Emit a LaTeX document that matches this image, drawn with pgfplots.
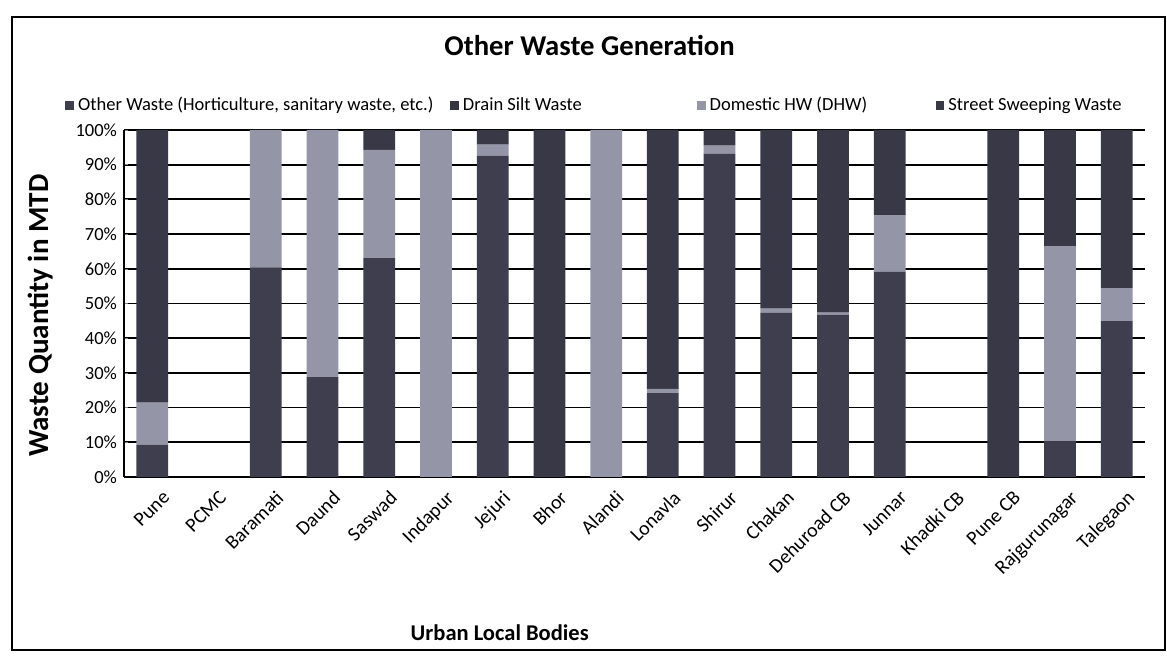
\documentclass[border=0pt]{standalone}
\usepackage{pgfplots}
\pgfplotsset{compat=1.18}
\usepackage{pgfplotstable}
\usepackage{fontspec}
\setmainfont{Carlito}
\definecolor{owcol}{RGB}{62,62,78}
\definecolor{dscol}{RGB}{52,52,62}
\definecolor{dhwcol}{RGB}{148,150,168}
\definecolor{sswcol}{RGB}{56,56,70}
\pgfplotstableread{
idx OW DS DHW SSW
0 9.3 0 12.1 78.6
1 0 0 0 0
2 60.4 0 39.6 0
3 28.8 0 71.2 0
4 63.1 0 31.2 5.7
5 0 0 100 0
6 92.6 0 3.2 4.2
7 0 0 0 100
8 0 0 100 0
9 24.2 0 1.2 74.6
10 93.1 0 2.4 4.5
11 47.3 0 1.2 51.5
12 46.8 0 0.6 52.6
13 59.2 0 16.3 24.5
14 0 0 0 0
15 0 0 0 100
16 10.3 0 56.2 33.5
17 44.9 0 9.5 45.6
}\datatable
\begin{document}
\begin{tikzpicture}
\useasboundingbox (0bp,0bp) rectangle (583.5bp,328.5bp);
\draw[line width=1.2bp] (6bp,3.5bp) rectangle (582.5bp,320bp);
\begin{axis}[
  at={(62bp,90bp)}, anchor=south west,
  scale only axis, width=510.5bp, height=173.5bp,
  ybar stacked, bar width=0.56,
  xmin=-0.5, xmax=17.5, ymin=0, ymax=100,
  xtick=data,
  xticklabels={Pune,PCMC,Baramati,Daund,Saswad,Indapur,Jejuri,Bhor,Alandi,Lonavla,Shirur,Chakan,Dehuroad CB,Junnar,Khadki CB,Pune CB,Rajgurunagar,Talegaon},
  x tick label style={rotate=45, anchor=north east, font=\fontsize{10}{11}\selectfont, inner sep=1pt, yshift=-6.5bp},
  ytick={0,10,...,100},
  yticklabels={0\%,10\%,20\%,30\%,40\%,50\%,60\%,70\%,80\%,90\%,100\%},
  y tick label style={font=\fontsize{9.3}{10}\selectfont},
  ymajorgrids, major grid style={black, line width=0.9bp},
  major tick length=2bp, xtick style={draw=none},
  axis x line*=bottom, axis y line*=left,
  axis line style={black, line width=0.9bp},
  title={Other Waste Generation},
  title style={font=\fontsize{14.4}{16}\selectfont\bfseries, at={(0.456,1.21)}, anchor=center},
  xlabel={Urban Local Bodies},
  xlabel style={font=\fontsize{11.3}{13}\selectfont\bfseries, at={(0.368,-0.45)}, anchor=center},
  ylabel={Waste Quantity in MTD},
  ylabel style={font=\fontsize{14.6}{16}\selectfont\bfseries, at={(-0.082,0.465)}, anchor=center},
  legend style={at={(-0.0578,1.07)}, anchor=west, draw=none, fill=none, inner sep=0pt,
    font=\fontsize{9.3}{11}\selectfont, legend columns=4,
    /tikz/every even column/.append style={column sep=0bp}},
  legend image code/.code={\fill[#1] (0bp,-2.2bp) rectangle (4.4bp,2.2bp);},
]
\addplot[fill=owcol, draw=none] table[x=idx, y=OW] {\datatable};
\addplot[fill=dscol, draw=none] table[x=idx, y=DS] {\datatable};
\addplot[fill=dhwcol, draw=none] table[x=idx, y=DHW] {\datatable};
\addplot[fill=sswcol, draw=none] table[x=idx, y=SSW] {\datatable};
\legend{{\makebox[184bp][l]{Other Waste (Horticulture, sanitary waste, etc.)}},{\makebox[115bp][l]{Drain Silt Waste}},{\makebox[111bp][l]{Domestic HW (DHW)}},{Street Sweeping Waste}}
\end{axis}
\end{tikzpicture}
\end{document}
